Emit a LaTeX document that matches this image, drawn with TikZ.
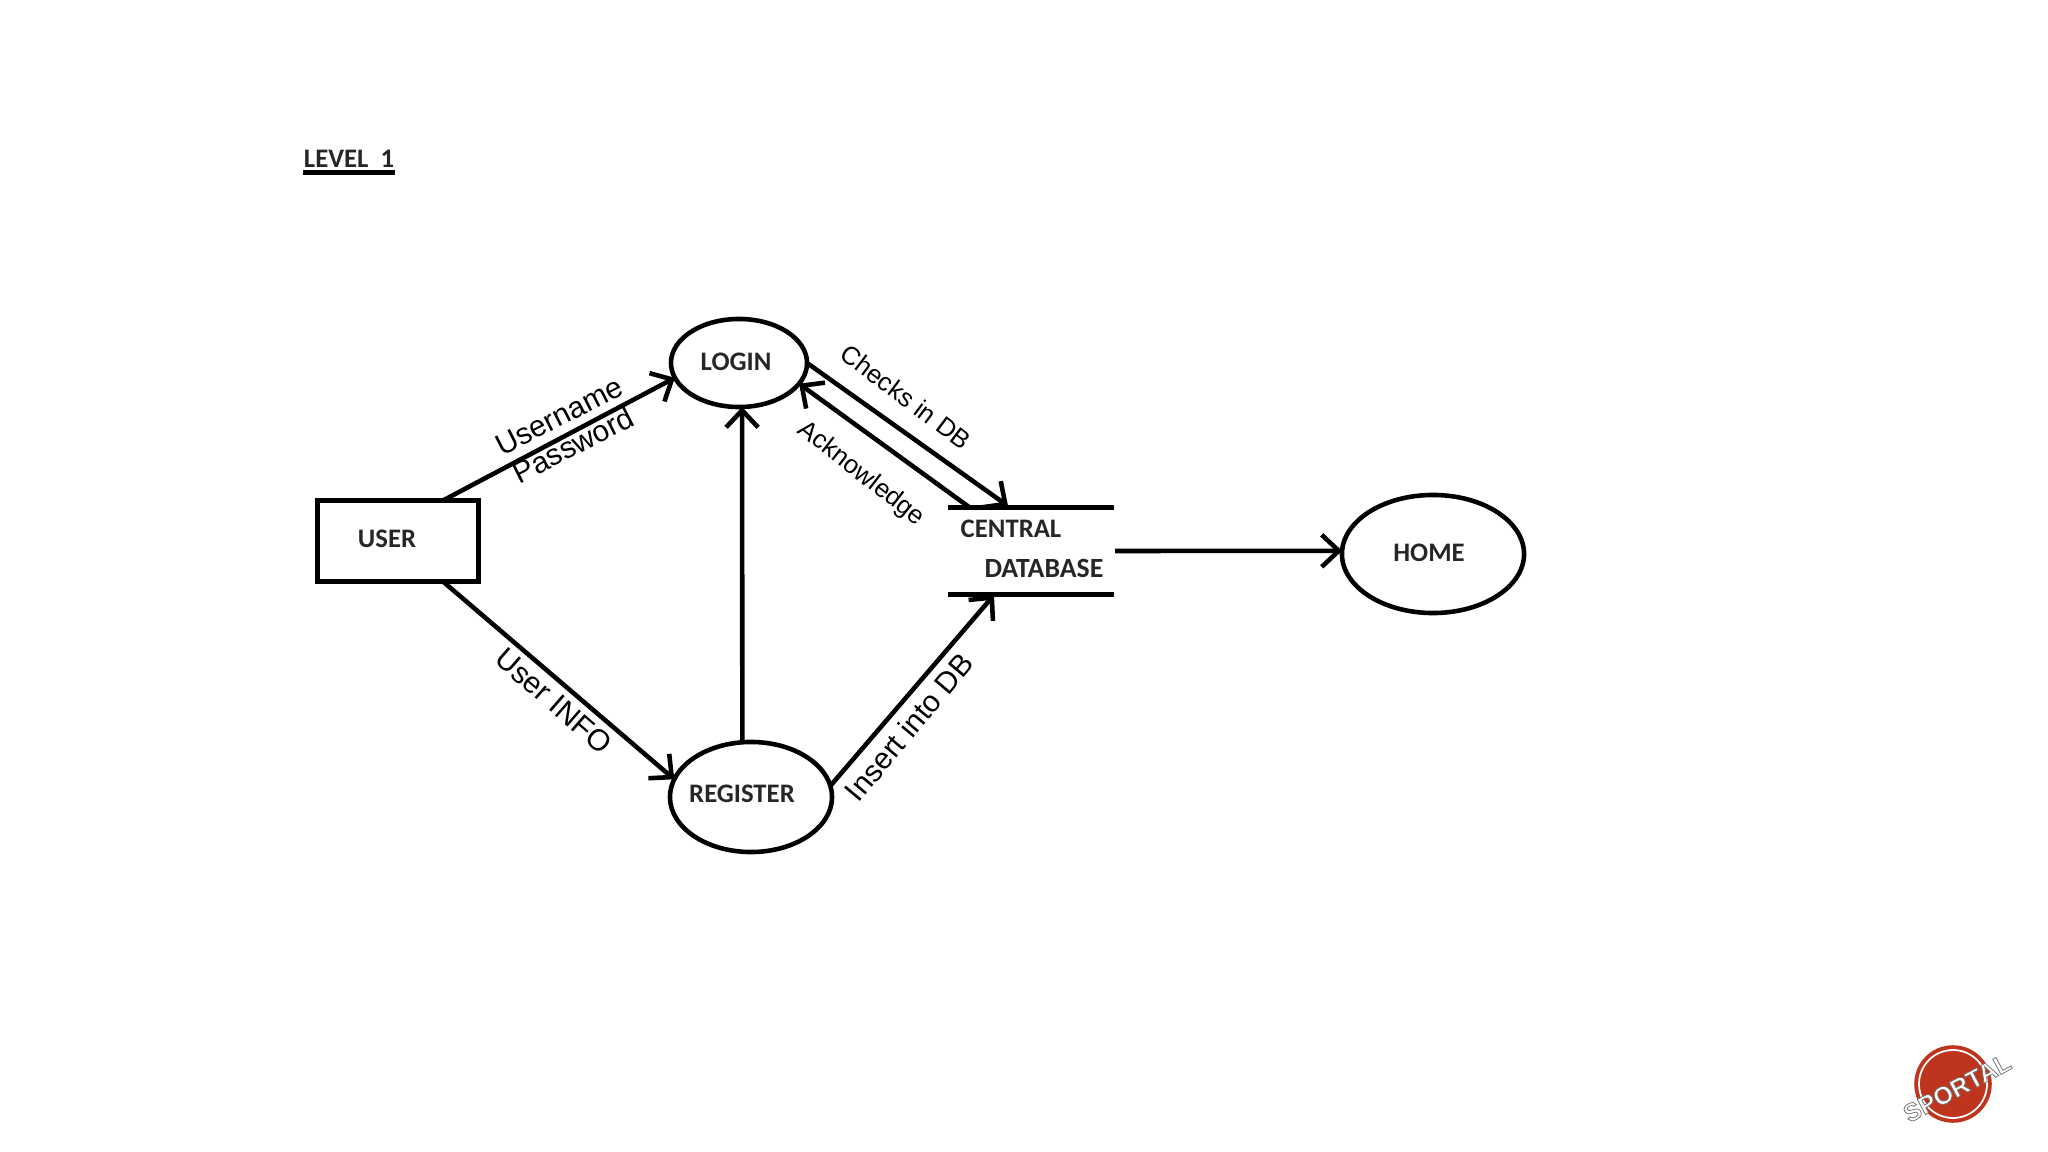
\documentclass[tikz,border=0pt]{standalone}
\usepackage{fontspec}
\setmainfont{Liberation Sans}
\newfontfamily\boxfont{Carlito}
\usetikzlibrary{arrows.meta,shapes.geometric}
\definecolor{logored}{RGB}{190,52,28}
\tikzset{
  kor/.style={draw,ellipse,line width=1.3pt,inner sep=0pt,outer sep=0pt},
  doboz/.style={draw,rectangle,line width=1.6pt,inner sep=0pt,outer sep=0pt},
  felirat/.style={font=\boxfont\bfseries\fontsize{7.6}{10}\selectfont,text=black!85,inner sep=0pt},
  nyil/.style={-{Straight Barb[length=1.7mm,width=3.2mm]},line width=1.3pt},
  vonal/.style={line width=1.4pt},
  cimke/.style={inner sep=0pt,font=\fontsize{8.5}{11}\selectfont},
  kiscimke/.style={inner sep=0pt,font=\fontsize{7.3}{9}\selectfont},
}
\begin{document}
\begin{tikzpicture}[x=0.01cm,y=-0.01cm]
  \useasboundingbox (0,0) rectangle (2048,1152);
  \node[felirat] (level) at (349,159) {LEVEL\ \ 1};
  \draw[vonal] ([yshift=-0.45mm]level.south west) -- ([yshift=-0.45mm]level.south east);
  % shapes
  \node[doboz,minimum width=1.61cm,minimum height=0.81cm] (user) at (398,541) {};
  \node[kor,minimum width=1.36cm,minimum height=0.88cm] (login) at (739,363) {};
  \node[kor,minimum width=1.62cm,minimum height=1.10cm] (register) at (751,797) {};
  \node[kor,minimum width=1.82cm,minimum height=1.18cm] (home) at (1433,554) {};
  \node[minimum width=1.66cm,minimum height=0.87cm,inner sep=0pt,outer sep=0pt] (db) at (1031,551) {};
  \draw[vonal] (db.north west) -- (db.north east);
  \draw[vonal] (db.south west) -- (db.south east);
  % texts
  \node[felirat] (usertext) at (387,539) {USER};
  \node[felirat] (logintext) at (736,362) {LOGIN};
  \node[felirat] (registertext) at (742,794) {REGISTER};
  \node[felirat] (hometext) at (1429,553) {HOME};
  \node[felirat] (centraltext) at (1011,529) {CENTRAL};
  \node[felirat,font=\boxfont\bfseries\fontsize{7.9}{10}\selectfont] (databasetext) at (1044,568) {DATABASE};
  % ends on the database lines
  \coordinate (dbcheck) at (1008,506);
  \coordinate (dback) at (969,507);
  \coordinate (dbinsert) at (994,595);
  \coordinate (dbhome) at (1115,551);
  % arrows
  \draw[nyil] (user.42) -- (login.193);
  \draw[nyil] (user.318) -- (register.167);
  \draw[nyil] (register.99) -- (login.274);
  \draw[nyil] (register.8) -- (dbinsert);
  \draw[nyil] (login.0) -- (dbcheck);
  \draw[nyil] (dback) -- (login.341);
  \draw[nyil] (dbhome) -- (home.178);
  % labels
  \node[cimke,rotate=27] (username) at (559,416) {Username};
  \node[cimke,rotate=27] (password) at (573,445) {Password};
  \node[kiscimke,rotate=-37] (checks) at (906,397) {Checks in DB};
  \node[kiscimke,rotate=-38] (ack) at (861,474) {Acknowledge};
  \node[cimke,rotate=-41] (userinfo) at (554,701) {User INFO};
  \node[cimke,rotate=50] (insert) at (909,727) {Insert into DB};
  % logo
  \node[circle,fill=logored,draw=logored,line width=1pt,minimum size=0.74cm,inner sep=0pt] (logo) at (1953,1084) {};
  \draw[white,line width=0.5pt] (logo.center) circle (34);
  \node[rotate=28,inner sep=0pt,font=\bfseries\fontsize{7.1}{9}\selectfont] (sportal) at (1957,1088)
    {\special{pdf:code q 2 Tr 0.22 w 0.45 0.45 0.45 RG 1 1 1 rg}SPORTAL\special{pdf:code Q}};
\end{tikzpicture}
\end{document}
